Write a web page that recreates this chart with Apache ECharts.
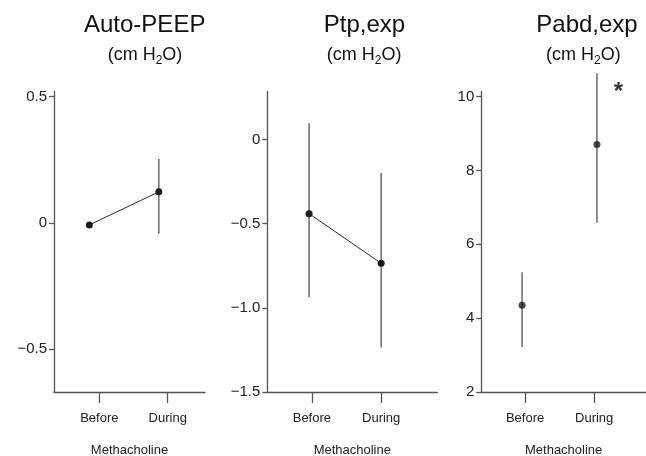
<!DOCTYPE html>
<html>
<head>
<meta charset="utf-8">
<script src="https://cdn.jsdelivr.net/npm/echarts@6/dist/echarts.min.js"></script>
<style>html,body{margin:0;padding:0;background:#fff}#c{width:646px;height:456px}</style>
</head>
<body>
<div id="c"></div>
<script>
// ---- data ----
const categories = ['Before', 'During'];
const categoryPositions = [1, 2];

const autoPeepX = [0.854, 1.87];
const autoPeepMean = [-0.008, 0.123];
const autoPeepLow = [null, -0.043];
const autoPeepHigh = [null, 0.253];

const ptpX = [0.96, 2.0];
const ptpMean = [-0.44, -0.735];
const ptpLow = [-0.937, -1.235];
const ptpHigh = [0.098, -0.198];

const pabdX = [0.957, 2.04];
const pabdMean = [4.35, 8.70];
const pabdLow = [3.22, 6.58];
const pabdHigh = [5.24, 10.63];

const autoPeepTicks = [-0.5, 0, 0.5];
const ptpTicks = [-1.5, -1.0, -0.5, 0];
const pabdTicks = [2, 4, 6, 8, 10];

const titles = ['Auto-PEEP', 'Ptp,exp', 'Pabd,exp'];
const xAxisName = 'Methacholine';
const starMark = [2.35, 10.1];

// ---- chart ----
const FONT = '"Liberation Sans", Arial, Helvetica, sans-serif';
const chart = echarts.init(document.getElementById('c'), null, {renderer: 'canvas'});

function fmtDec(v) {
  if (v === 0) return '0';
  return v.toFixed(1).replace('-', '\u2212');
}
function fmtInt(v) { return String(v); }

const gridDefs = [
  {left: 54, width: 151, top: 91.5, height: 300.5},
  {left: 267.3, width: 170, top: 91.5, height: 300.5},
  {left: 481.3, width: 164.7, top: 91.5, height: 300.5}
];
const xRanges = [[0.338, 2.545], [0.357, 2.81], [0.367, 2.75]];
const yRanges = [[-0.669, 0.52], [-1.5, 0.286], [2, 10.135]];
const yTicks = [autoPeepTicks, ptpTicks, pabdTicks];
const yFmts = [fmtDec, fmtDec, fmtInt];

const axisColor = '#555';
const textColor = '#222';

const xAxes = gridDefs.map((g, i) => ({
  type: 'value', gridIndex: i, min: xRanges[i][0], max: xRanges[i][1],
  axisLine: {show: true, onZero: false, lineStyle: {color: axisColor, width: 1.3}},
  axisTick: {show: true, customValues: categoryPositions, length: 11, lineStyle: {color: axisColor, width: 1.3}},
  axisLabel: {show: true, customValues: categoryPositions, margin: 20,
    formatter: v => categories[categoryPositions.indexOf(v)] || '',
    color: textColor, fontSize: 13, fontFamily: FONT},
  splitLine: {show: false},
  name: xAxisName, nameLocation: 'middle', nameGap: 52,
  nameTextStyle: {color: textColor, fontSize: 13, fontFamily: FONT}
}));

const yAxes = gridDefs.map((g, i) => ({
  type: 'value', gridIndex: i, min: yRanges[i][0], max: yRanges[i][1],
  axisLine: {show: true, onZero: false, lineStyle: {color: axisColor, width: 1.3}},
  axisTick: {show: true, customValues: yTicks[i], length: 5, lineStyle: {color: axisColor, width: 1.3}},
  axisLabel: {show: true, customValues: yTicks[i], margin: 7, formatter: yFmts[i],
    color: textColor, fontSize: 15, fontFamily: FONT},
  splitLine: {show: false}
}));

function errorSeries(i, xs, lo, hi) {
  const data = [];
  xs.forEach((x, k) => { if (lo[k] != null && hi[k] != null) data.push([x, lo[k], hi[k]]); });
  return {
    type: 'custom', xAxisIndex: i, yAxisIndex: i, clip: false, silent: true,
    data: data,
    renderItem: function (params, api) {
      const p1 = api.coord([api.value(0), api.value(1)]);
      const p2 = api.coord([api.value(0), api.value(2)]);
      return {type: 'line', shape: {x1: p1[0], y1: p1[1], x2: p2[0], y2: p2[1]},
        style: {stroke: '#6a6a6a', lineWidth: 1.5}};
    },
    encode: {x: 0, y: [1, 2]},
    z: 2
  };
}
function meanSeries(i, xs, means, connect) {
  return {
    type: connect ? 'line' : 'scatter', xAxisIndex: i, yAxisIndex: i,
    data: xs.map((x, k) => [x, means[k]]),
    symbol: 'circle', symbolSize: 7, showSymbol: true,
    itemStyle: {color: '#1a1a1a'},
    lineStyle: {color: '#2a2a2a', width: 1},
    animation: false, silent: true, z: 3
  };
}

const graphics = [];
const centers = [[144.7, 145], [364.5, 364.2], [587, 583.3]];
titles.forEach((t, i) => {
  graphics.push({type: 'text', x: centers[i][0], y: 25,
    style: {text: t, font: '24px ' + FONT, fill: '#111', textAlign: 'center', textVerticalAlign: 'middle'}});
  graphics.push({type: 'text', x: centers[i][1], y: 55.5,
    style: {text: '{a|(cm H}{s|2}{a|O)}', textAlign: 'center', textVerticalAlign: 'middle', fill: '#111',
      rich: {
        a: {fontSize: 18, fontFamily: FONT, lineHeight: 22, color: '#111'},
        s: {fontSize: 12, fontFamily: FONT, lineHeight: 12, verticalAlign: 'bottom', color: '#111'}
      }}});
});

const option = {
  animation: false,
  backgroundColor: '#fff',
  grid: gridDefs.map(g => Object.assign({containLabel: false, outerBoundsMode: 'none'}, g)),
  xAxis: xAxes,
  yAxis: yAxes,
  graphic: graphics,
  series: [
    errorSeries(0, autoPeepX, autoPeepLow, autoPeepHigh),
    meanSeries(0, autoPeepX, autoPeepMean, true),
    errorSeries(1, ptpX, ptpLow, ptpHigh),
    meanSeries(1, ptpX, ptpMean, true),
    errorSeries(2, pabdX, pabdLow, pabdHigh),
    meanSeries(2, pabdX, pabdMean, false),
    {
      type: 'scatter', xAxisIndex: 2, yAxisIndex: 2, clip: false, silent: true,
      data: [starMark], symbolSize: 0,
      label: {show: true, position: 'inside', formatter: '*', fontSize: 24, color: '#000',
        fontWeight: 'bold', fontFamily: FONT}
    }
  ]
};
chart.setOption(option);
</script>
</body>
</html>
